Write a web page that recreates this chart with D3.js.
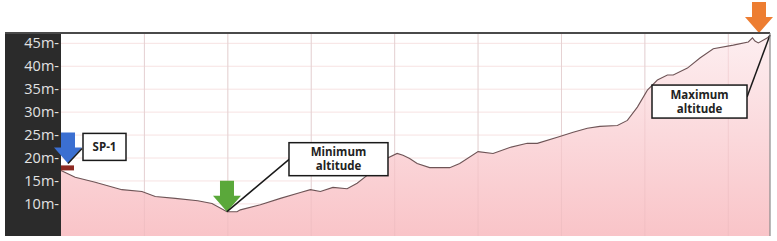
<!DOCTYPE html>
<meta charset="utf-8">
<script src="https://d3js.org/d3.v7.min.js"></script>
<style>
  body { margin: 0; background: #fff; }
  text { font-family: "Open Sans", "Noto Sans", sans-serif; }
</style>
<div id="my_dataviz"></div>
<script>

// distance along the route (grid units) and altitude (m)
const distance = [0, 0.17, 0.41, 0.73, 0.97, 1.13, 1.37, 1.64, 1.81, 1.99, 2.11, 2.15, 2.39, 2.63, 2.87,
  2.99, 3.11, 3.26, 3.43, 3.55, 3.67, 3.86, 4.03, 4.10, 4.18, 4.27, 4.42, 4.66, 4.78, 5.00, 5.18,
  5.38, 5.59, 5.71, 5.98, 6.14, 6.31, 6.46, 6.67, 6.79, 6.91, 7.03, 7.15, 7.27, 7.34, 7.51, 7.66,
  7.82, 8.06, 8.24, 8.29, 8.32, 8.36, 8.47, 8.50]
const altitude = [17.3, 15.8, 14.7, 13.1, 12.7, 11.6, 11.2, 10.7, 10.1, 8.3, 8.3, 8.7, 9.8, 11.2, 12.5,
  13.1, 12.7, 13.6, 13.3, 14.5, 16.2, 19.5, 21.0, 20.6, 19.9, 18.8, 17.9, 17.9, 18.8, 21.4, 21.0,
  22.3, 23.2, 23.2, 24.7, 25.6, 26.5, 26.9, 27.1, 28.2, 31.1, 34.8, 37.0, 38.1, 38.1, 39.6, 41.8,
  43.8, 44.6, 45.3, 46.2, 45.5, 45.1, 46.2, 46.8]
const yTicks = [10, 15, 20, 25, 30, 35, 40, 45]
const xGrid = [1, 2, 3, 4, 5, 6, 7, 8]
const labels = ["SP-1", "Minimum altitude", "Maximum altitude"]

const data = distance.map((d, i) => ({ d: d, v: altitude[i] }))

// frame
const margin = { top: 33, right: 7, bottom: 5, left: 61 },
  width = 777 - margin.left - margin.right,
  height = 241 - margin.top - margin.bottom;

const root = d3.select("#my_dataviz")
  .append("svg")
  .attr("width", 777)
  .attr("height", 241)

// gradient for the area
const grad = root.append("defs").append("linearGradient")
  .attr("id", "fillGrad").attr("x1", 0).attr("y1", 0).attr("x2", 0).attr("y2", 1)
grad.append("stop").attr("offset", "0%").attr("stop-color", "#fdeef0")
grad.append("stop").attr("offset", "100%").attr("stop-color", "#f9c4c8")

// dark axis panel (drawn first, labels go on top)
root.append("rect")
  .attr("x", 5).attr("y", margin.top)
  .attr("width", margin.left - 5).attr("height", height)
  .attr("fill", "#2b2b2b")

const svg = root.append("g")
  .attr("transform", `translate(${margin.left}, ${margin.top})`);

const x = d3.scaleLinear().domain([0, 8.5]).range([0, width]);
const y = d3.scaleLinear().domain([3, 47.25]).range([height, 0]);

// grid
svg.selectAll(".hgrid").data(yTicks).join("line")
  .attr("x1", 0).attr("x2", width)
  .attr("y1", d => y(d)).attr("y2", d => y(d))
  .attr("stroke", "#f7e2e2").attr("stroke-width", 1)
svg.selectAll(".vgrid").data(xGrid).join("line")
  .attr("y1", 0).attr("y2", height)
  .attr("x1", d => x(d)).attr("x2", d => x(d))
  .attr("stroke", "#e8e3e3").attr("stroke-width", 1)

// area + line
svg.append("path")
  .datum(data)
  .attr("fill", "url(#fillGrad)")
  .attr("d", d3.area().x(d => x(d.d)).y0(height).y1(d => y(d.v)))

// vertical grid faintly over the fill
svg.selectAll(".vgrid2").data(xGrid).join("line")
  .attr("y1", 0).attr("y2", height)
  .attr("x1", d => x(d)).attr("x2", d => x(d))
  .attr("stroke", "#e3b3b7").attr("stroke-width", 1).attr("opacity", 0.35)

svg.append("path")
  .datum(data)
  .attr("fill", "none")
  .attr("stroke", "#6e5456")
  .attr("stroke-width", 1.1)
  .attr("d", d3.line().x(d => x(d.d)).y(d => y(d.v)))

// y axis
const yAxis = svg.append("g")
  .call(d3.axisLeft(y).tickValues(yTicks).tickSize(0).tickPadding(2).tickFormat(d => d + "m-"))
yAxis.select(".domain").remove()
yAxis.selectAll("text")
  .attr("fill", "#e2e2e2")
  .style("font-size", "14.5px")

// borders
root.append("line").attr("x1", 5).attr("x2", margin.left + width)
  .attr("y1", margin.top).attr("y2", margin.top)
  .attr("stroke", "#4a4a4a").attr("stroke-width", 2)
root.append("line").attr("x1", margin.left + width).attr("x2", margin.left + width)
  .attr("y1", margin.top).attr("y2", margin.top + height)
  .attr("stroke", "#8a8a8a").attr("stroke-width", 1.2)

// start marker
svg.append("rect")
  .attr("x", x(distance[0])).attr("y", y(altitude[0]) - 5)
  .attr("width", 13).attr("height", 5)
  .attr("fill", "#8e2a22")

// arrow helper: tip at (tx, ty), pointing down
function arrow(tx, ty, color) {
  const p = [[tx - 7, ty - 31], [tx + 7, ty - 31], [tx + 7, ty - 16], [tx + 14, ty - 16],
    [tx, ty], [tx - 14, ty - 16], [tx - 7, ty - 16]]
  svg.append("path").attr("d", "M" + p.join("L") + "Z").attr("fill", color)
}

function callout(tx, ty, bx, by, bw, bh, lines, ax, ay) {
  svg.append("line")
    .attr("x1", tx).attr("y1", ty).attr("x2", ax).attr("y2", ay)
    .attr("stroke", "#1a1a1a").attr("stroke-width", 1.5)
  svg.append("rect")
    .attr("x", bx).attr("y", by).attr("width", bw).attr("height", bh)
    .attr("fill", "#fff").attr("stroke", "#1a1a1a").attr("stroke-width", 1.5)
  const t = svg.append("text")
    .attr("text-anchor", "middle")
    .attr("fill", "#222")
    .style("font-size", "11.5px").style("font-weight", "bold")
  lines.forEach((l, i) => {
    t.append("tspan").attr("x", bx + bw / 2)
      .attr("y", by + bh / 2 + 4 + (i - (lines.length - 1) / 2) * 14)
      .text(l)
  })
}

// SP-1
const sx = x(distance[0]) + 7, sy = y(altitude[0]) - 7
arrow(sx, sy, "#3b6fd1")
callout(sx, sy, sx + 15, sy - 30, 43, 27, [labels[0]], sx + 14, sy - 15)

// minimum
const iMin = altitude.indexOf(d3.min(altitude))
const mx = x(distance[iMin]), my = y(altitude[iMin])
arrow(mx, my, "#5aa83a")
callout(mx, my, mx + 62, my - 69, 99, 33, labels[1].split(" "), mx + 63, my - 53)

// maximum
const iMax = altitude.length - 1
const Mx = x(distance[iMax]), My = y(altitude[iMax])
arrow(Mx - 11, My - 2, "#ed7d31")
callout(Mx, My, Mx - 118, My + 50, 95, 33, labels[2].split(" "), Mx - 23, My + 62)

</script>
